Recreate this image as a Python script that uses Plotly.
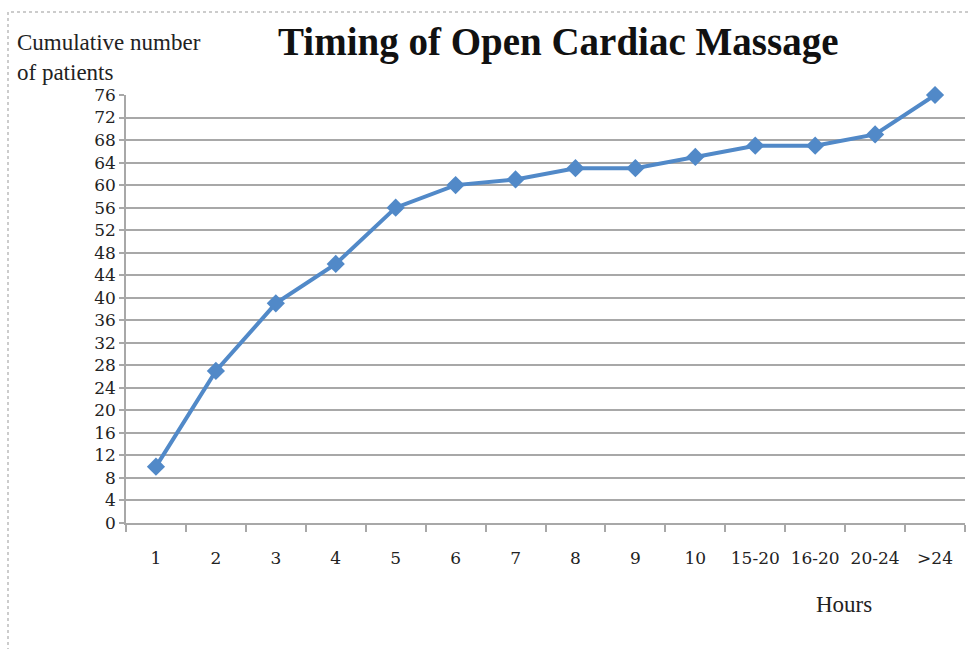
import plotly.graph_objects as go

categories = ["1", "2", "3", "4", "5", "6", "7", "8", "9", "10", "15-20", "16-20", "20-24", ">24"]
cumulative_patients = [10, 27, 39, 46, 56, 60, 61, 63, 63, 65, 67, 67, 69, 76]
y_ticks = list(range(0, 77, 4))

W, H = 971, 649
L, R, T, B = 126, 6, 95, 126
pw, ph = W - L - R, H - T - B

fig = go.Figure()
fig.add_trace(go.Scatter(
    x=categories, y=cumulative_patients, mode="lines+markers",
    line=dict(color="#5189c8", width=4),
    marker=dict(symbol="diamond", size=14, color="#5189c8"),
    showlegend=False, hoverinfo="x+y", cliponaxis=False,
))

grid = "#a8a8a8"
fig.update_layout(
    width=W, height=H,
    margin=dict(l=L, r=R, t=T, b=B),
    paper_bgcolor="white", plot_bgcolor="white",
    font=dict(family="DejaVu Serif", color="#222222"),
    xaxis=dict(
        type="category", range=[-0.5, 13.5],
        showgrid=False, showline=True, linecolor=grid, linewidth=1.5,
        ticks="outside", tickson="boundaries", ticklen=7, tickcolor=grid, tickwidth=1.5,
        tickfont=dict(family="DejaVu Serif", size=17, color="#222222"),
        ticklabelstandoff=19,
    ),
    yaxis=dict(
        range=[0, 76], tickvals=y_ticks,
        showgrid=True, gridcolor=grid, gridwidth=1.5,
        showline=True, linecolor=grid, linewidth=1.5,
        ticks="outside", ticklen=5, tickcolor=grid, tickwidth=1.5,
        tickfont=dict(family="DejaVu Serif", size=17, color="#222222"),
        zeroline=False,
    ),
    annotations=[
        dict(text="<b>Timing of Open Cardiac Massage</b>", xref="paper", yref="paper",
             x=(558 - L) / pw, y=(523 - 42) / ph,
             xanchor="center", yanchor="middle", showarrow=False,
             font=dict(family="Liberation Serif", size=39, color="#111111")),
        dict(text="Cumulative number<br>of patients", xref="paper", yref="paper",
             x=(15 - L) / pw, y=(523 - 28) / ph, xanchor="left", yanchor="top",
             align="left", showarrow=False,
             font=dict(family="Liberation Serif", size=23, color="#222222")),
        dict(text="Hours", xref="paper", yref="paper",
             x=(844 - L) / pw, y=(523 - 604) / ph, xanchor="center", yanchor="middle",
             showarrow=False,
             font=dict(family="Liberation Serif", size=23, color="#222222")),
    ],
    shapes=[
        dict(type="rect", xref="paper", yref="paper",
             x0=(8 - L) / pw, x1=(990 - L) / pw, y0=(523 - 700) / ph, y1=(523 - 12) / ph,
             line=dict(color="#999999", width=1, dash="dot"), fillcolor="rgba(0,0,0,0)",
             layer="below"),
    ],
)

fig.write_html("out.html", config={"displayModeBar": False},
               post_script="document.body.style.margin='0';")
